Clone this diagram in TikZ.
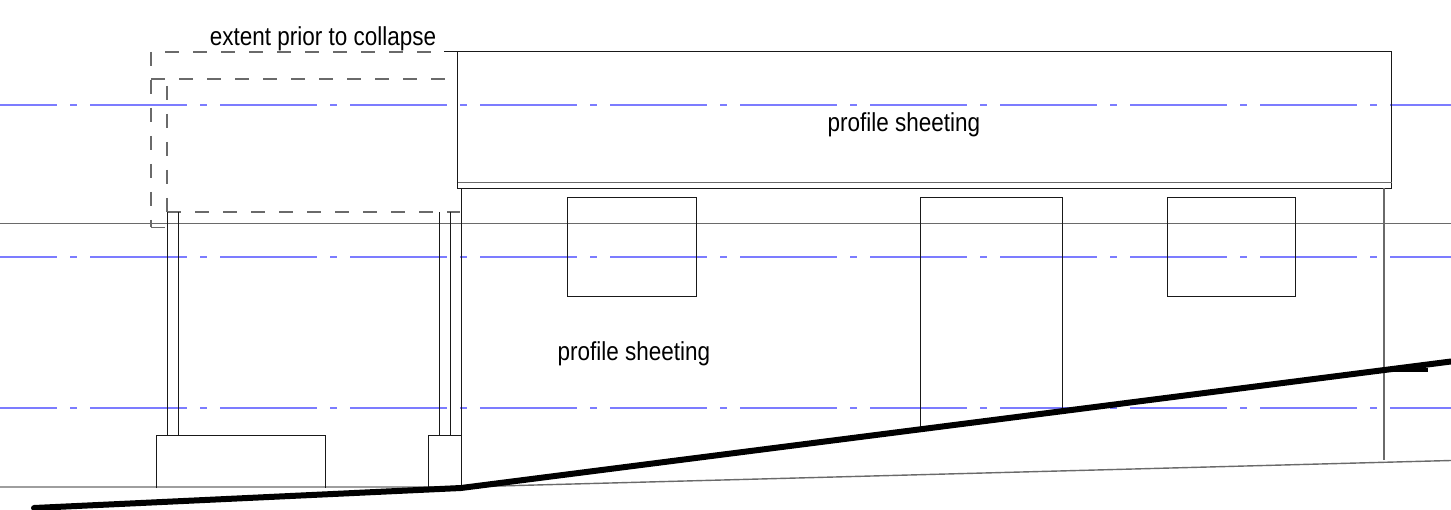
\documentclass[tikz,border=0pt]{standalone}
\usepackage{fontspec}
\setmainfont{Liberation Sans}
\definecolor{gridblue}{HTML}{7C7CFF}
\definecolor{thingray}{HTML}{6A6A6A}
\tikzset{
  gridline/.style={draw=gridblue,line width=1.7pt,dash pattern=on 97pt off 13pt on 7pt off 13pt,dash phase=40pt},
  thinline/.style={draw=black!90,line width=1pt},
  grayline/.style={draw=thingray,line width=1.4pt},
  collapse/.style={draw=thingray,line width=1.3pt,dash pattern=on 14pt off 14pt},
  ground/.style={draw=black,line width=6pt,line cap=round,line join=round},
  label/.style={font=\fontsize{26}{26}\selectfont,inner sep=0pt,text=black,xscale=.865}
}
\begin{document}
\begin{tikzpicture}[x=1pt,y=-1pt]
\useasboundingbox (0,0) rectangle (1451,510);
\fill[white] (0,0) rectangle (1451,510);
% grid lines
\foreach \y in {105,257,408} \draw[gridline] (0,\y) -- (1451,\y);
% level and base lines
\draw[grayline] (0,223.5) -- (1451,223.5);
\draw[grayline] (0,487) -- (461,487) -- (1451,460.5);
% extent prior to collapse
\draw[collapse] (151,52) -- (151,227);
\draw[collapse] (165,52) -- (444,52);
\draw[collapse] (151,79) -- (458,79);
\draw[grayline] (151,227.5) -- (165,227.5);
\draw[collapse] (167,86) -- (167,212);
\draw[collapse] (167,212) -- (460,212);
% roof
\draw[thinline] (444,51.5) -- (1391.5,51.5) -- (1391.5,188.5) -- (457.5,188.5) -- (457.5,51.5);
\draw[grayline] (458,182.5) -- (1391.5,182.5);
% walls
\draw[thinline] (461.5,188.5) -- (461.5,490);
\draw[grayline] (1384,188.5) -- (1384,460);
% columns
\draw[thinline] (167.5,212) -- (167.5,435.5);
\draw[thinline] (178.5,212) -- (178.5,435.5);
\draw[thinline] (439.5,212) -- (439.5,435.5);
\draw[thinline] (450.5,212) -- (450.5,435.5);
% footings
\draw[thinline] (156.5,488) -- (156.5,435.5) -- (325.5,435.5) -- (325.5,488);
\draw[thinline] (428.5,488) -- (428.5,435.5) -- (461.5,435.5);
% openings
\draw[thinline] (567.5,197.5) rectangle (696.5,296.5);
\draw[thinline] (920.5,428) -- (920.5,197.5) -- (1062.5,197.5) -- (1062.5,409);
\draw[thinline] (1167.5,197.5) rectangle (1295.5,296.5);
% ground
\draw[ground] (34,508) -- (461,488) -- (1451,361.5);
\draw[draw=black,line width=4pt] (1384,370.5) -- (1428,370.5);
% labels
\node[label] (top) at (323,39) {extent prior to collapse};
\node[label] (roof) at (904,125) {profile sheeting};
\node[label] (wall) at (634,354) {profile sheeting};
\end{tikzpicture}
\end{document}
